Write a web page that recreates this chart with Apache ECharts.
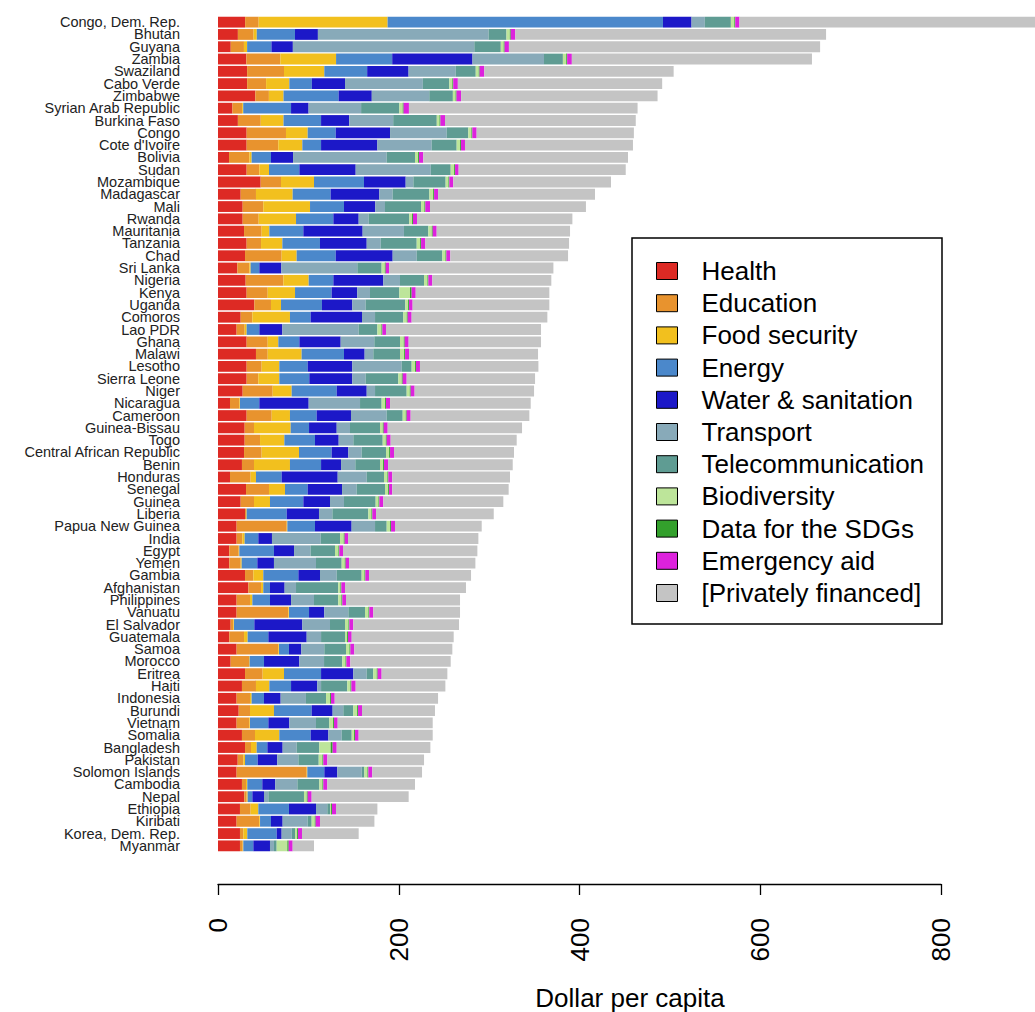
<!DOCTYPE html>
<html><head><meta charset="utf-8">
<script src="https://cdn.jsdelivr.net/npm/echarts@6/dist/echarts.min.js"></script>
<style>html,body{margin:0;padding:0;background:#fff}#c{width:1035px;height:1012px}</style>
</head><body><div id="c"></div><script>
const countries = ["Congo, Dem. Rep.","Bhutan","Guyana","Zambia","Swaziland","Cabo Verde","Zimbabwe","Syrian Arab Republic","Burkina Faso","Congo","Cote d'Ivoire","Bolivia","Sudan","Mozambique","Madagascar","Mali","Rwanda","Mauritania","Tanzania","Chad","Sri Lanka","Nigeria","Kenya","Uganda","Comoros","Lao PDR","Ghana","Malawi","Lesotho","Sierra Leone","Niger","Nicaragua","Cameroon","Guinea-Bissau","Togo","Central African Republic","Benin","Honduras","Senegal","Guinea","Liberia","Papua New Guinea","India","Egypt","Yemen","Gambia","Afghanistan","Philippines","Vanuatu","El Salvador","Guatemala","Samoa","Morocco","Eritrea","Haiti","Indonesia","Burundi","Vietnam","Somalia","Bangladesh","Pakistan","Solomon Islands","Cambodia","Nepal","Ethiopia","Kiribati","Korea, Dem. Rep.","Myanmar"];

const health = [30,22,14.1,31.4,32.2,32.2,41.3,16,22,31.7,31.7,12.2,31.7,47.2,25.1,27.3,27.3,28.8,31.7,29.9,21.4,30.6,31.7,40.2,25.1,20.6,31.7,42,31.7,31.7,27.3,13.3,31.7,29.5,29.5,28.8,26.5,13.3,31,25.1,29.9,20.6,20.6,12.5,12.5,29.9,33.6,20.6,20.6,14,12.5,20.6,14,29.9,26.5,20.6,22.9,20.6,26.5,29.9,21.8,20.6,26.5,29.1,24.3,20.6,24.3,24.3];
const education = [15,17.4,14.6,37.6,40.8,21,15,10.7,25.3,43.5,35,22.5,14,22.5,16.9,22.8,17.7,19.5,15.9,40.5,13.3,41.7,23.3,18.4,12.9,8.9,23.3,13,16.6,12.9,33.2,10.3,27.7,10.3,17,19.5,13.3,22.8,25.4,14.7,1.1,55.4,6.3,10.4,12.6,9.2,14,14.8,57.2,3,16.3,46.1,20.3,19.5,15.5,14.8,12.5,14.1,14.4,6.6,6.2,77.5,4.5,2.6,11.8,25.1,3.7,3];
const food = [142.6,3.5,3.5,61.6,44.6,25.7,16.2,1.2,25.2,24,26.6,2.5,10.7,36.5,40.6,51.7,41.3,8.5,23.6,16.6,1.4,28,30.2,11.1,41.6,2.2,11.7,37.5,19.5,23.2,21,0.7,20.2,40.6,26.9,41.3,39.8,5.9,17.7,17.7,0.7,0.7,2.6,0.7,1.1,11,2.5,2.6,0.7,0.7,4,0.8,0.7,23.6,14.8,1.8,26.5,0.7,26.9,6.3,1.9,0.7,1.4,1.1,8.5,0.8,4.4,0.7];
const energy = [304.6,42.3,26.9,62.1,47.4,24.9,60.9,52.9,41.5,31,20.7,21.4,33.6,55.3,42,37.6,41.3,37.6,41.6,43.2,9.6,27.3,40.5,45.3,22.9,14,23.3,46.9,31.4,33.2,49.8,21.4,29.5,20.3,33.9,36.1,34.4,28.4,25.1,36.9,44.3,30.6,15.1,38.3,17.3,38.8,7.4,19.5,22.2,22.5,22.9,11,15.9,41,24,13.7,41.7,20.3,34.7,11.8,14,18.8,16.6,5.2,33.9,12.1,32.5,11.1];
const water = [31.6,25.3,23.7,88.8,45.8,36.7,36.7,19.4,31.2,60.1,62.3,24.4,62.3,46.1,53.9,34.6,28,65.6,51.7,63,24.4,55.3,28.4,33.6,56.8,25.5,45.7,22.8,49.4,47.6,33.2,54.6,38,30.6,26.2,18.5,22.1,62,38,29.5,35.7,40.5,15.1,22.2,18.4,23.9,16.2,23.3,16.9,53.1,42.4,13.7,39.1,35.7,29.1,18.4,23.2,23.2,19.6,16.9,21.7,14.4,14.4,12.9,29.9,12.9,5.5,18.4];
const transport = [14.7,188.8,200.7,79.1,52.2,86.1,63.6,58.1,48.6,62.7,60.1,103.6,83,8.5,14.7,10.7,11.1,45.7,15.5,26.6,84,18.4,14,14.7,14.4,84.4,37.2,9.6,54.6,14.7,9.2,56.8,39.5,14.7,16.2,14.7,15.8,32.1,16.2,15.5,14.8,25.9,53.9,18.4,46.5,18.5,12.6,25.4,26.6,30.6,15.9,25.4,27.3,14.8,4.1,28,11.8,29.5,14.7,15.5,23.3,26.9,24.4,4.8,12.5,27.7,11.1,4.4];
const telecom = [28.8,19.8,29.3,20.9,22.1,29.3,26.1,42.3,48.2,23.9,27.6,31.3,22.1,35.7,40.6,39.9,44.9,27,39.8,28.4,26.9,26.6,32.5,43.9,31.3,20.7,28.4,29.5,11,36.2,35,23.9,17.7,33.2,32.5,26.9,27.3,19.1,31.3,35,39.8,12.9,21.4,26.9,28.4,27.6,46.7,26.8,18.4,16.6,26.5,24,20.2,7.3,29,22.2,11.1,14.8,11.1,25.1,22.5,3,24.3,39.4,3,4.4,3.7,3];
const biodiversity = [3.8,3.7,3.2,3.7,3.3,3.3,3,3.7,3,3.4,3.8,3.4,3.8,3.1,4.2,3.7,3.1,3.8,3.8,3.4,3.5,3.8,11.8,3.1,3.8,4.5,4.2,4.6,3.8,3.8,3.4,3.8,3.4,3.1,3.4,3.5,3.4,3.8,3.5,3.1,3.4,3.8,4.1,3.8,3.4,3.1,2.4,3.5,3.8,3.8,2.3,3.8,3.5,3.8,3.5,4.5,4.2,4.1,2.6,12.5,4.1,3.4,3.4,3.1,1.2,3.4,2.3,11.8];
const dataSDG = [1,1,1,1,1,1,1,1,1,1,1,1,1,1,1,1,1,1,1,1,1,1,1.8,1,1,1,1,1,1,1,1,1,1,1,1,1,1,1,1,1,1,1,1,1,1,1,1,1,1,1,1,1,1,1,1,1,1,1,1,2.2,1,1,1,1,1,1,1,1.5];
const emergency = [4.7,5.1,4.8,5.2,5.2,5.1,5.1,5.9,5.1,4.8,4.4,4.8,4,4.4,4.4,5.2,4.4,4.4,4.8,4.4,3.7,4.4,4.5,4,4.4,4,4.4,4.4,4.4,4.4,4.4,4.5,4.4,4.4,4.4,4.4,4.5,4.4,3.6,4.4,4.1,4.4,3.7,4.1,3.7,4,4.1,4.1,4.4,4.4,4.1,4.4,4.4,4.4,4.8,4.1,4.4,4.1,4.1,4.5,4.5,4.4,4.5,4.4,4.4,4.8,4.4,4.4];
const privatelyFinanced = [373,343.7,344.2,265.6,209.4,226,217.3,252.9,211,173.9,185.8,226.4,184.8,174.4,173.6,172.5,171.9,147.5,158.9,130.2,181.8,131.6,147.8,151.2,150.1,171.5,146.4,142.7,131,142,132.1,155.6,131.3,148.6,139.4,132.7,137.9,130.2,128.7,132.7,130.2,95.9,144.2,148.6,139.8,112.9,133.8,126.1,95.9,116.9,112.8,108.4,111,72.7,99.2,114.3,80.7,105.1,81.9,103.6,106.9,55,96.9,107.3,45.8,60.2,62.7,23.6];

const seriesNames = ["Health","Education","Food security","Energy","Water & sanitation","Transport","Telecommunication","Biodiversity","Data for the SDGs","Emergency aid","[Privately financed]"];
const xTicks = [0, 200, 400, 600, 800];

const values = [health, education, food, energy, water, transport, telecom, biodiversity, dataSDG, emergency, privatelyFinanced];
const colors = ['#dd2a24','#e8932e','#f2c01e','#4b88cb','#1c18c8','#88aab9','#5f9c93','#bde59a','#33a02c','#dd22dd','#c4c4c4'];
const FONT = "'Liberation Sans', Arial, sans-serif";

const chart = echarts.init(document.getElementById('c'), null, {renderer: 'svg'});
const series = seriesNames.map((n, i) => ({
  name: n, type: 'bar', stack: 'total', xAxisIndex: 0, yAxisIndex: 0,
  data: values[i], itemStyle: {color: colors[i]}, barCategoryGap: '12%',
  silent: true, clip: true
}));

chart.setOption({
  animation: false,
  grid: [
    {left: 218, top: 16, width: 817, height: 836},
    {left: 218, top: 883, width: 723, height: 1}
  ],
  xAxis: [
    {gridIndex: 0, type: 'value', min: 0, max: 903.7, show: false},
    {gridIndex: 1, type: 'value', min: xTicks[0], max: xTicks[xTicks.length-1], interval: 200,
     axisLine: {show: true, lineStyle: {color: '#000', width: 1.3}},
     axisTick: {show: true, length: 11, lineStyle: {color: '#000', width: 1.3}},
     splitLine: {show: false},
     axisLabel: {rotate: 90, margin: 34, fontSize: 26, color: '#000', fontFamily: FONT}}
  ],
  yAxis: [
    {gridIndex: 0, type: 'category', data: countries, inverse: true,
     axisLine: {show: false}, axisTick: {show: false},
     axisLabel: {interval: 0, fontSize: 14.5, color: '#222', margin: 38, fontFamily: FONT}},
    {gridIndex: 1, type: 'value', show: false}
  ],
  legend: {
    orient: 'vertical', left: 656, top: 255, padding: 0,
    itemWidth: 21, itemHeight: 17, itemGap: 0.2, icon: 'rect',
    itemStyle: {borderColor: '#000', borderWidth: 1},
    selectedMode: false,
    textStyle: {fontSize: 26, color: '#000', lineHeight: 32, padding: [0,0,0,19], fontFamily: FONT},
    data: seriesNames
  },
  graphic: [
    {type: 'rect', shape: {x: 632, y: 238, width: 310, height: 386}, style: {fill: 'none', stroke: '#000', lineWidth: 1.5}, z: 10},
    {type: 'text', x: 630, y: 998, style: {text: 'Dollar per capita', font: '26px ' + FONT, fill: '#000', align: 'center', verticalAlign: 'middle', textAlign: 'center', textVerticalAlign: 'middle'}}
  ],
  series: series
});
</script></body></html>
